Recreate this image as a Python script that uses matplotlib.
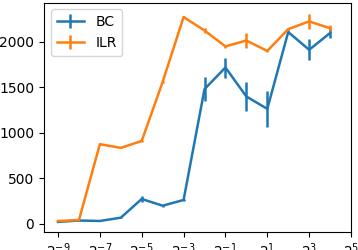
import numpy as np
import matplotlib
matplotlib.use("Agg")
import matplotlib.pyplot as plt
from matplotlib.ticker import FixedLocator, NullLocator, LogFormatterSciNotation

# x values are powers of two: 2^-9 .. 2^4
exponents = list(range(-9, 5))
bc_mean = [20, 35, 30, 66, 272, 198, 261, 1480, 1718, 1399, 1263, 2108, 1913, 2097]
bc_err = [5, 5, 5, 8, 35, 10, 10, 130, 110, 155, 195, 20, 115, 55]
ilr_mean = [30, 40, 875, 834, 910, 1560, 2273, 2125, 1950, 2015, 1900, 2140, 2225, 2150]
ilr_err = [3, 3, 5, 5, 8, 10, 10, 30, 15, 80, 10, 10, 85, 35]

x = 2.0 ** np.array(exponents)

dpi = 100
fig = plt.figure(figsize=(358 / dpi, 250 / dpi), dpi=dpi)
ax = fig.add_axes([44 / 358, 18.3 / 250, 307 / 358, 229.2 / 250])

ax.errorbar(x, bc_mean, yerr=bc_err, label='BC', lw=1.8)
ax.errorbar(x, ilr_mean, yerr=ilr_err, label='ILR', lw=1.8)

ax.set_xscale('log', base=2)
ax.set_xlim(2 ** -9.67, 2 ** 5)
ax.set_ylim(-88, 2433)
ax.xaxis.set_major_locator(FixedLocator([2.0 ** k for k in range(-9, 6, 2)]))
ax.xaxis.set_major_formatter(LogFormatterSciNotation(base=2))
ax.xaxis.set_minor_locator(NullLocator())
ax.legend(loc='upper left')

fig.savefig('out.png', dpi=dpi)
